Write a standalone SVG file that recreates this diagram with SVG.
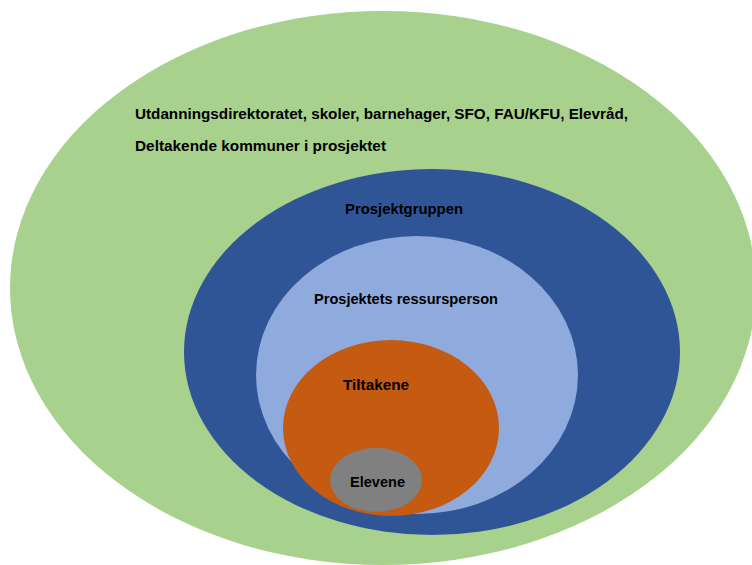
<svg xmlns="http://www.w3.org/2000/svg" width="752" height="565" viewBox="0 0 752 565">
<style>
text{font-family:"Liberation Sans","DejaVu Sans",sans-serif;font-weight:bold;font-size:15px;fill:#000}
</style>
<rect width="752" height="565" fill="#fff"/>
<g id="ring-outer">
<ellipse cx="383" cy="288" rx="373" ry="277" fill="#A9D18E"/>
<text x="135" y="119" textLength="493" lengthAdjust="spacingAndGlyphs">Utdanningsdirektoratet, skoler, barnehager, SFO, FAU/KFU, Elevråd,</text>
<text x="135" y="151" textLength="251" lengthAdjust="spacingAndGlyphs">Deltakende kommuner i prosjektet</text>
</g>
<g id="prosjektgruppen">
<ellipse cx="432" cy="352" rx="248" ry="183" fill="#2F5597"/>
<text x="345" y="214" textLength="118" lengthAdjust="spacingAndGlyphs">Prosjektgruppen</text>
</g>
<g id="ressursperson">
<ellipse cx="417" cy="375" rx="161" ry="139" fill="#8FAADC"/>
<text x="314" y="304" textLength="184" lengthAdjust="spacingAndGlyphs">Prosjektets ressursperson</text>
</g>
<g id="tiltakene">
<ellipse cx="391" cy="428" rx="108" ry="88" fill="#C55A11"/>
<text x="343" y="390" textLength="66" lengthAdjust="spacingAndGlyphs">Tiltakene</text>
</g>
<g id="elevene">
<ellipse cx="376" cy="480" rx="46" ry="32" fill="#808080"/>
<text x="350" y="487" textLength="55" lengthAdjust="spacingAndGlyphs">Elevene</text>
</g>
<g id="connectors"/>
</svg>
